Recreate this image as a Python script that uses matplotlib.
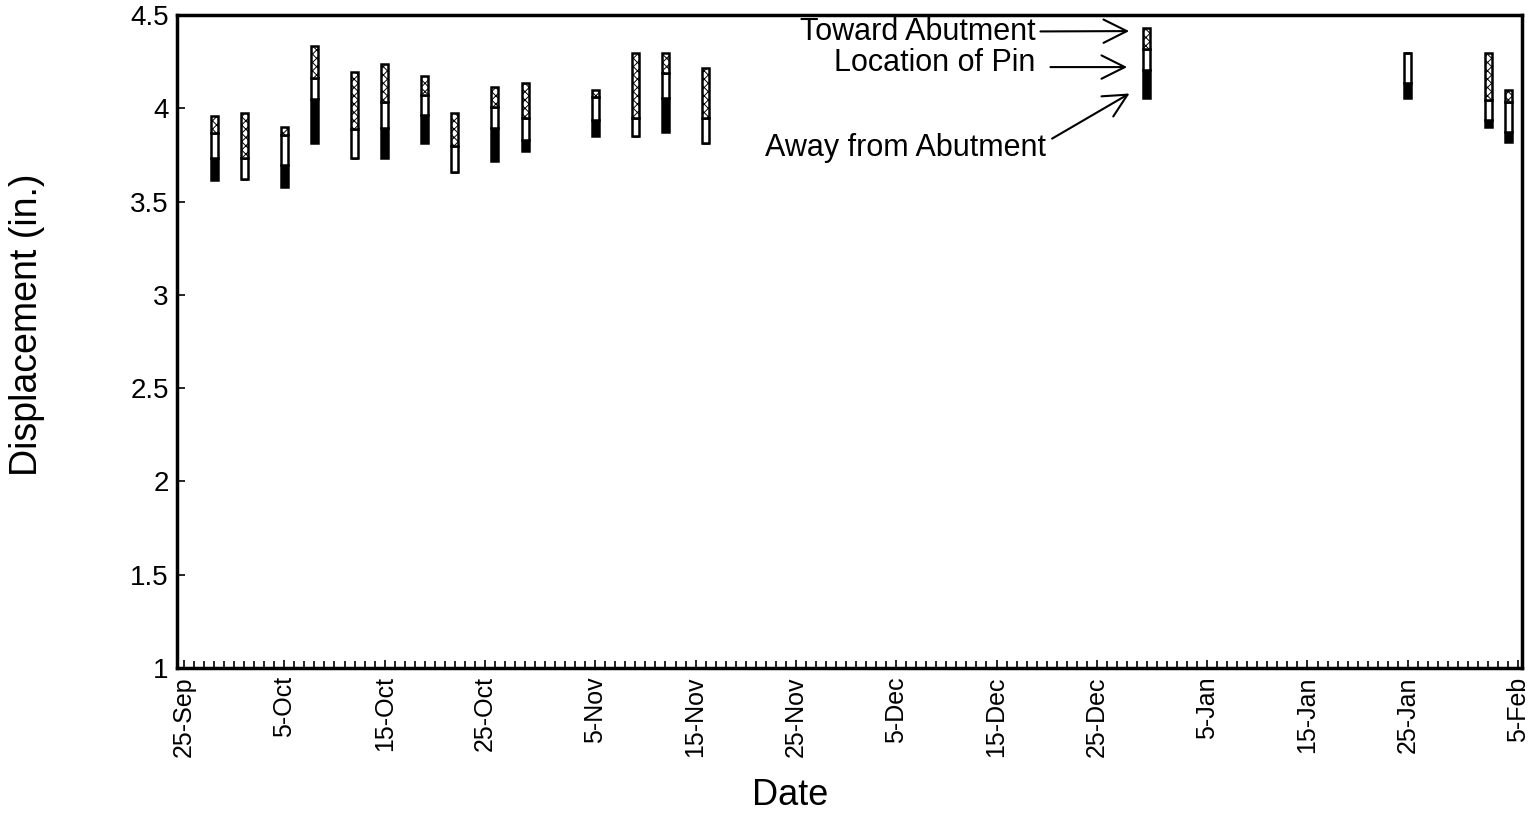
import matplotlib
matplotlib.use('Agg')
import numpy as np
import matplotlib.pyplot as plt
import matplotlib.dates as mdates
from datetime import datetime, timedelta

plt.rcParams['font.family'] = ['Liberation Sans', 'DejaVu Sans']
plt.rcParams['hatch.linewidth'] = 0.7

# survey dates (Sep-Dec 2000, Jan-Feb 2001)
dates = ['2000-09-28', '2000-10-01', '2000-10-05', '2000-10-08', '2000-10-12',
         '2000-10-15', '2000-10-19', '2000-10-22', '2000-10-26', '2000-10-29',
         '2000-11-05', '2000-11-09', '2000-11-12', '2000-11-16', '2000-12-30',
         '2001-01-25', '2001-02-02', '2001-02-04']
# bottom of bar = away from abutment
away = [3.616, 3.621, 3.580, 3.812, 3.735, 3.735, 3.816, 3.660, 3.719,
        3.773, 3.852, 3.852, 3.875, 3.816, 4.054, 4.054, 3.898, 3.821]
# location of pin (white segment)
pin_lo = [3.734, 3.621, 3.696, 4.048, 3.735, 3.896, 3.964, 3.660, 3.893,
          3.830, 3.937, 3.852, 4.053, 3.816, 4.205, 4.134, 3.937, 3.875]
pin_hi = [3.868, 3.732, 3.857, 4.161, 3.889, 4.035, 4.071, 3.798, 4.005,
          3.946, 4.062, 3.946, 4.191, 3.946, 4.316, 4.295, 4.045, 4.035]
# top of bar = toward abutment
toward = [3.958, 3.973, 3.898, 4.334, 4.196, 4.236, 4.173, 3.976, 4.116,
          4.137, 4.098, 4.295, 4.298, 4.214, 4.429, 4.295, 4.295, 4.098]

tick_dates = ['2000-09-25', '2000-10-05', '2000-10-15', '2000-10-25', '2000-11-05',
              '2000-11-15', '2000-11-25', '2000-12-05', '2000-12-15', '2000-12-25',
              '2001-01-05', '2001-01-15', '2001-01-25', '2001-02-05']
tick_labels = ['25-Sep', '5-Oct', '15-Oct', '25-Oct', '5-Nov', '15-Nov', '25-Nov',
               '5-Dec', '15-Dec', '25-Dec', '5-Jan', '15-Jan', '25-Jan', '5-Feb']

x = mdates.date2num([datetime.strptime(d, '%Y-%m-%d') for d in dates])
away = np.array(away)
pin_lo = np.array(pin_lo)
pin_hi = np.array(pin_hi)
toward = np.array(toward)

fig = plt.figure(figsize=(15.35, 8.17), dpi=100)
ax = fig.add_axes([0.1153, 0.1824, 0.876, 0.7992])

w = 0.7
ax.bar(x, pin_lo - away, bottom=away, width=w, color='black', edgecolor='black', lw=1.8)
ax.bar(x, pin_hi - pin_lo, bottom=pin_lo, width=w, color='white', edgecolor='black', lw=1.8)
ax.bar(x, toward - pin_hi, bottom=pin_hi, width=w, color='white', edgecolor='black',
       lw=1.8, hatch='xxxx')

t0 = datetime(2000, 9, 25)
ax.set_xlim(mdates.date2num(t0 - timedelta(days=0.7)),
            mdates.date2num(datetime(2001, 2, 5) + timedelta(days=0.35)))
ax.set_ylim(1, 4.5)

ax.set_xticks(mdates.date2num([datetime.strptime(d, '%Y-%m-%d') for d in tick_dates]))
ax.set_xticklabels(tick_labels, rotation=90, fontsize=18)
ax.xaxis.set_minor_locator(mdates.DayLocator())
ax.set_yticks([1, 1.5, 2, 2.5, 3, 3.5, 4, 4.5])
ax.set_yticklabels(['1', '1.5', '2', '2.5', '3', '3.5', '4', '4.5'], fontsize=20)
ax.tick_params(axis='both', which='major', direction='in', length=6, width=1.2, pad=6)
ax.tick_params(axis='x', which='minor', direction='in', length=5, width=1.2)

for s in ax.spines.values():
    s.set_linewidth(2.5)

ax.set_xlabel('Date', fontsize=26)
ax.xaxis.set_label_coords(0.456, -0.168)
ax.set_ylabel('Displacement (in.)', fontsize=27)
ax.yaxis.set_label_coords(-0.098, 0.525)

# legend annotations pointing at the 30-Dec bar
xd = mdates.date2num(t0)
arrow = dict(arrowstyle='->', lw=1.5, color='black', mutation_scale=42)
ax.annotate('', xy=(xd + 94.5, 4.414), xytext=(xd + 85.1, 4.412), arrowprops=arrow)
ax.annotate('', xy=(xd + 94.3, 4.221), xytext=(xd + 86.1, 4.221), arrowprops=arrow)
ax.annotate('', xy=(xd + 94.5, 4.087), xytext=(xd + 86.3, 3.830), arrowprops=arrow)
ax.text(xd + 84.9, 4.41, 'Toward Abutment', ha='right', va='center', fontsize=22)
ax.text(xd + 84.9, 4.245, 'Location of Pin', ha='right', va='center', fontsize=22)
ax.text(xd + 85.9, 3.787, 'Away from Abutment', ha='right', va='center', fontsize=22)

fig.savefig('out.png', dpi=100)
